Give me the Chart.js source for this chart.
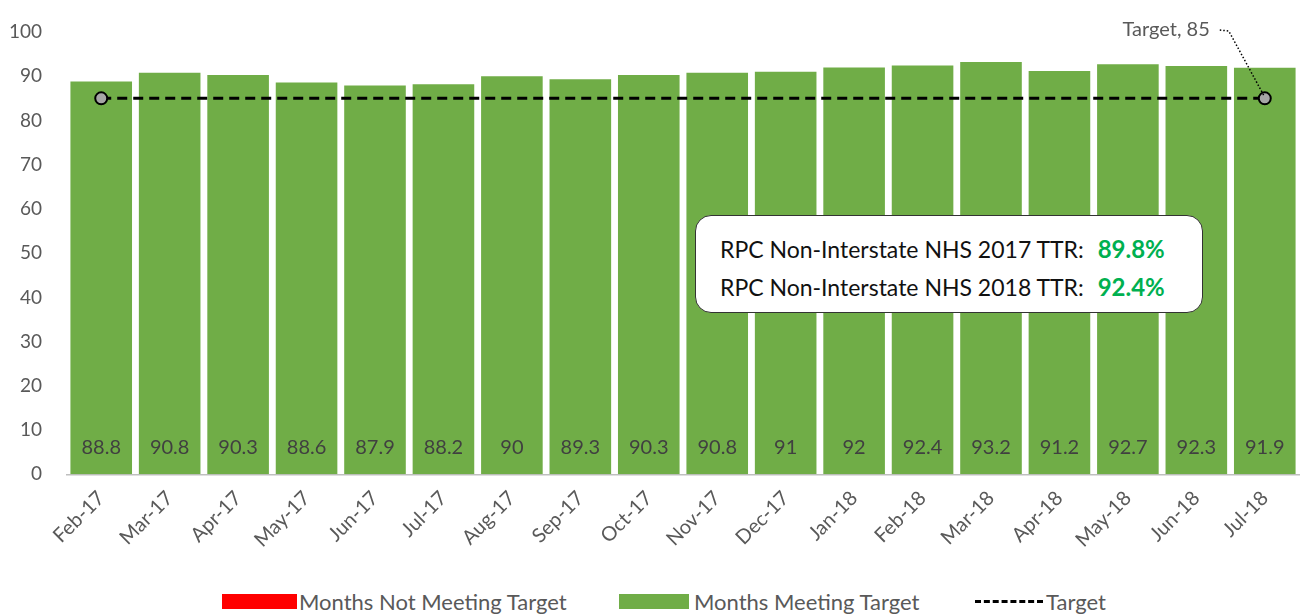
<!DOCTYPE html>
<html>
<head>
<meta charset="utf-8">
<script src="https://cdn.jsdelivr.net/npm/chart.js@4/dist/chart.umd.min.js"></script>
<style>
  html, body { margin: 0; padding: 0; background: #fff; }
  body { width: 1307px; height: 615px; position: relative; overflow: hidden; font-family: Lato, 'Open Sans', sans-serif; }
  #wrap { position: absolute; left: 0; top: 0; width: 1307px; height: 556px; }
  .box { position: absolute; left: 695px; top: 215px; width: 508px; height: 98px; background: #fff;
         border: 1.5px solid #333; border-radius: 16px; box-sizing: border-box; font-size: 23px; color: #111; }
  .box div { position: absolute; left: 24px; white-space: nowrap; }
  .box b { color: #00B050; margin-left: 8px; font-size: 24px; }
  .legend { position: absolute; top: 588px; left: 0; width: 1307px; height: 28px; font-size: 22px; color: #595959; }
  .legend span { position: absolute; top: 0; line-height: 28px; }
  .sw { position: absolute; top: 6px; height: 15px; }
</style>
</head>
<body>
<div id="wrap"><canvas id="chart"></canvas></div>
<div class="box">
  <div style="top:18px">RPC Non-Interstate NHS 2017 TTR: <b>89.8%</b></div>
  <div style="top:56px">RPC Non-Interstate NHS 2018 TTR: <b>92.4%</b></div>
</div>
<div class="legend">
  <div class="sw" style="left:222px;width:75px;background:#FF0000"></div>
  <span style="left:299px">Months Not Meeting Target</span>
  <div class="sw" style="left:619px;width:70px;background:#70AD47"></div>
  <span style="left:694px">Months Meeting Target</span>
  <div class="sw" style="left:975px;width:68px;top:12px;height:0;border-top:3px dashed #000"></div>
  <span style="left:1046px">Target</span>
</div>
<script>
// Data
const months = ['Feb-17', 'Mar-17', 'Apr-17', 'May-17', 'Jun-17', 'Jul-17', 'Aug-17', 'Sep-17', 'Oct-17',
  'Nov-17', 'Dec-17', 'Jan-18', 'Feb-18', 'Mar-18', 'Apr-18', 'May-18', 'Jun-18', 'Jul-18'];
const meetingTarget = [88.8, 90.8, 90.3, 88.6, 87.9, 88.2, 90, 89.3, 90.3, 90.8, 91, 92, 92.4, 93.2, 91.2, 92.7, 92.3, 91.9];
const notMeetingTarget = [null, null, null, null, null, null, null, null, null, null, null, null, null, null, null, null, null, null];
const target = [85, 85, 85, 85, 85, 85, 85, 85, 85, 85, 85, 85, 85, 85, 85, 85, 85, 85];
const targetLabel = 'Target, 85';

const FONT = "Lato, 'Open Sans', sans-serif";

// value labels at the bottom of each bar
const barLabels = {
  id: 'barLabels',
  afterDatasetsDraw(chart) {
    const ctx = chart.ctx;
    const meta = chart.getDatasetMeta(1);
    ctx.save();
    ctx.font = '20px ' + FONT;
    ctx.fillStyle = '#404040';
    ctx.textAlign = 'center';
    ctx.textBaseline = 'middle';
    meta.data.forEach(function (bar, i) {
      ctx.fillText(String(meetingTarget[i]), bar.x, bar.base - 27);
    });
    ctx.restore();
  }
};

// "Target, 85" callout on the last point
const targetCallout = {
  id: 'targetCallout',
  afterDatasetsDraw(chart) {
    const ctx = chart.ctx;
    const pts = chart.getDatasetMeta(2).data;
    const p = pts[pts.length - 1];
    const ty = chart.chartArea.top - 2;
    ctx.save();
    ctx.font = '20px ' + FONT;
    ctx.fillStyle = '#595959';
    ctx.textAlign = 'right';
    ctx.textBaseline = 'middle';
    ctx.fillText(targetLabel, p.x - 55, ty);
    ctx.strokeStyle = '#000';
    ctx.lineWidth = 1.5;
    ctx.setLineDash([1.5, 2]);
    ctx.beginPath();
    ctx.moveTo(p.x - 45, ty);
    ctx.lineTo(p.x - 36, ty + 1);
    ctx.lineTo(p.x - 1, p.y - 3);
    ctx.stroke();
    ctx.restore();
  }
};

const endPoints = target.map(function (v, i) { return (i === 0 || i === target.length - 1) ? 6 : 0; });

new Chart(document.getElementById('chart'), {
  data: {
    labels: months,
    datasets: [
      {
        type: 'bar',
        label: 'Months Not Meeting Target',
        data: notMeetingTarget,
        backgroundColor: '#FF0000',
        grouped: false,
        barPercentage: 0.9,
        categoryPercentage: 1,
        order: 3
      },
      {
        type: 'bar',
        label: 'Months Meeting Target',
        data: meetingTarget,
        backgroundColor: '#70AD47',
        grouped: false,
        barPercentage: 0.9,
        categoryPercentage: 1,
        order: 2
      },
      {
        type: 'line',
        label: 'Target',
        data: target,
        borderColor: '#000',
        borderWidth: 3,
        borderDash: [10, 6],
        pointRadius: endPoints,
        pointBackgroundColor: '#A6A6A6',
        pointBorderColor: '#000',
        pointBorderWidth: 2,
        fill: false,
        order: 1
      }
    ]
  },
  options: {
    responsive: true,
    maintainAspectRatio: false,
    animation: false,
    layout: { padding: { top: 32, left: 0, right: 2, bottom: 0 } },
    scales: {
      y: {
        min: 0,
        max: 100,
        ticks: { stepSize: 10, color: '#595959', font: { size: 19, family: FONT }, padding: 17 },
        grid: { display: false },
        border: { display: false },
        afterFit: function (scale) { scale.width = 67; }
      },
      x: {
        ticks: { color: '#595959', font: { size: 20, family: FONT }, maxRotation: 45, minRotation: 45, padding: 4 },
        grid: { display: false },
        border: { color: '#BFBFBF', width: 1.5 }
      }
    },
    plugins: {
      legend: { display: false },
      tooltip: { enabled: false }
    }
  },
  plugins: [barLabels, targetCallout]
});
</script>
</body>
</html>
